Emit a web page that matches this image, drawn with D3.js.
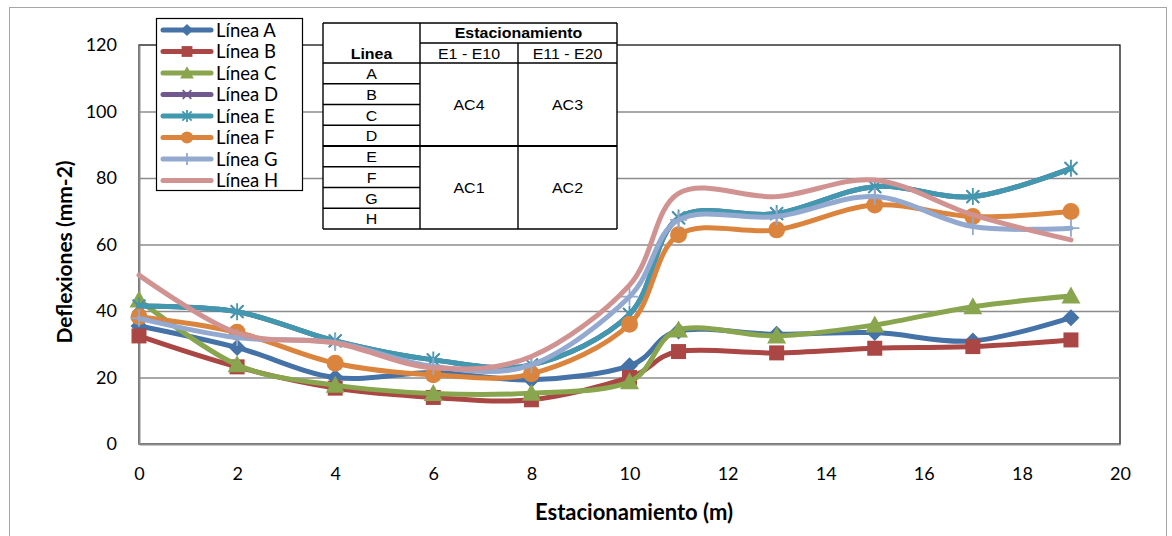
<!DOCTYPE html>
<html>
<head>
<meta charset="utf-8">
<script src="https://cdn.jsdelivr.net/npm/d3@7"></script>
<style>
  html, body { margin: 0; padding: 0; background: #fff; }
  svg { display: block; }
</style>
</head>
<body>
<svg id="chart" width="1172" height="536"></svg>
<script>
// Estacionamiento (m) at which each deflection was measured
const stations = [0, 2, 4, 6, 8, 10, 11, 13, 15, 17, 19];

// Deflexiones (mm-2) per line
const lineA = [35.5, 29, 20, 21.5, 19.3, 23.5, 34, 33, 33.5, 31, 38];
const lineB = [32.5, 23.2, 16.8, 14, 13.3, 20, 27.8, 27.4, 28.8, 29.3, 31.3];
const lineC = [43.3, 23.8, 17.7, 15.2, 15.3, 18.7, 34.3, 32.5, 35.8, 41.3, 44.5];
const lineD = [41.5, 39.8, 31, 25.3, 23.8, 39, 68, 69.3, 77.4, 74.4, 82.9];
const lineE = [41.5, 39.8, 31, 25.3, 23.8, 39, 68, 69.3, 77.4, 74.4, 82.9];
const lineF = [38.3, 33.6, 24.3, 20.8, 21.1, 36, 62.9, 64.4, 71.9, 68.4, 69.9];
const lineG = [37.8, 32, 30.5, 23.3, 23.8, 44.3, 67.4, 68.4, 74.4, 65.4, 64.9];
const lineH = [50.8, 33.4, 30.4, 22.9, 26.3, 47.8, 75.4, 74.4, 79.4, 68.9, 61.4];

const seriesNames = ["Línea A", "Línea B", "Línea C", "Línea D", "Línea E", "Línea F", "Línea G", "Línea H"];
const seriesValues = [lineA, lineB, lineC, lineD, lineE, lineF, lineG, lineH];
const seriesColors = ["#4572A7", "#AA4643", "#89A54E", "#71588F", "#4198AF", "#DB843D", "#93A9CF", "#D19392"];
const seriesMarkers = ["diamond", "square", "triangle", "x", "asterisk", "circle", "plus", "none"];

const yTicks = [0, 20, 40, 60, 80, 100, 120];
const xTicks = [0, 2, 4, 6, 8, 10, 12, 14, 16, 18, 20];

// Inset table: pavement assignment per line and station range
const tableHeader = "Estacionamiento";
const tableLineLabel = "Linea";
const tableRanges = ["E1 - E10", "E11 - E20"];
const tableLines = ["A", "B", "C", "D", "E", "F", "G", "H"];
const tableGroups = [["AC4", "AC3"], ["AC1", "AC2"]];

const svg = d3.select("#chart");
const plot = { left: 139, right: 1120, top: 45, bottom: 444 };

const x = d3.scaleLinear().domain([0, 20]).range([plot.left, plot.right]);
const y = d3.scaleLinear().domain([0, 120]).range([plot.bottom, plot.top]);

const uiFont = "Lato, 'Open Sans', sans-serif";
const tableFont = "'Liberation Sans', Arial, sans-serif";

// outer chart border
svg.append("rect")
  .attr("x", 9.5).attr("y", 7.5)
  .attr("width", 1157).attr("height", 540)
  .attr("fill", "#fff").attr("stroke", "#a6a6a6").attr("stroke-width", 1);

// plot area frame
svg.append("rect")
  .attr("x", plot.left).attr("y", plot.top)
  .attr("width", plot.right - plot.left).attr("height", plot.bottom - plot.top)
  .attr("fill", "#fff").attr("stroke", "#000").attr("stroke-width", 1.2);

// horizontal gridlines
svg.append("g")
  .attr("transform", `translate(${plot.left},0)`)
  .call(d3.axisLeft(y).tickValues(yTicks.slice(1, -1)).tickSize(-(plot.right - plot.left)).tickFormat(""))
  .call(g => g.select(".domain").remove())
  .call(g => g.selectAll("line").attr("stroke", "#8c8c8c").attr("stroke-width", 1.6));

// y axis
const yAxis = svg.append("g")
  .attr("transform", `translate(${plot.left},0)`)
  .call(d3.axisLeft(y).tickValues(yTicks).tickSize(0).tickPadding(22));
yAxis.select(".domain").attr("stroke", "#8c8c8c").attr("stroke-width", 2);
yAxis.selectAll("text").attr("font-family", uiFont).attr("font-size", 18).attr("fill", "#000");

// x axis
const xAxis = svg.append("g")
  .attr("transform", `translate(0,${plot.bottom})`)
  .call(d3.axisBottom(x).tickValues(xTicks).tickSize(0).tickPadding(23));
xAxis.select(".domain").attr("stroke", "#8c8c8c").attr("stroke-width", 2);
xAxis.selectAll("text").attr("font-family", uiFont).attr("font-size", 18).attr("fill", "#000");

// axis titles
svg.append("text")
  .attr("transform", `translate(72,252) rotate(-90)`)
  .attr("text-anchor", "middle")
  .attr("font-family", uiFont).attr("font-weight", "bold").attr("font-size", 21)
  .text("Deflexiones (mm-2)");
svg.append("text")
  .attr("x", 634).attr("y", 520)
  .attr("text-anchor", "middle")
  .attr("font-family", uiFont).attr("font-weight", "bold").attr("font-size", 22)
  .text("Estacionamiento (m)");

// marker drawing; k scales the marker size
function drawMarker(sel, kind, color, k) {
  const s = k || 1;
  const filled = {
    diamond: "M0,-8.5L8.5,0L0,8.5L-8.5,0Z",
    square: "M-7.5,-7.5H7.5V7.5H-7.5Z",
    triangle: "M0,-9.5L9.5,7.5L-9.5,7.5Z"
  };
  const g = sel.append("g").attr("transform", `scale(${s})`);
  if (filled[kind]) {
    g.append("path").attr("d", filled[kind]).attr("fill", color);
  } else if (kind === "circle") {
    g.append("circle").attr("r", 8.5).attr("fill", color);
  } else if (kind === "x") {
    g.append("path").attr("d", "M-6,-6L6,6M-6,6L6,-6")
      .attr("fill", "none").attr("stroke", color).attr("stroke-width", 1.8 / s);
  } else if (kind === "asterisk") {
    g.append("path").attr("d", "M-6.5,-6.5L6.5,6.5M-6.5,6.5L6.5,-6.5M0,-8.5L0,8.5")
      .attr("fill", "none").attr("stroke", color).attr("stroke-width", 1.8 / s);
  } else if (kind === "plus") {
    g.append("path").attr("d", "M-8.5,0L8.5,0M0,-8.5L0,8.5")
      .attr("fill", "none").attr("stroke", color).attr("stroke-width", 1.8 / s);
  }
}

// smoothed series lines with markers
const line = d3.line()
  .x((d, i) => x(stations[i]))
  .y(d => y(d))
  .curve(d3.curveCatmullRom.alpha(0));

seriesValues.forEach((vals, s) => {
  const g = svg.append("g");
  g.append("path")
    .attr("d", line(vals))
    .attr("fill", "none")
    .attr("stroke", seriesColors[s])
    .attr("stroke-width", 5)
    .attr("stroke-linejoin", "round")
    .attr("stroke-linecap", "round");
  vals.forEach((v, i) => {
    const m = g.append("g").attr("transform", `translate(${x(stations[i])},${y(v)})`);
    drawMarker(m, seriesMarkers[s], seriesColors[s]);
  });
});

// legend
const legend = svg.append("g");
legend.append("rect")
  .attr("x", 156.5).attr("y", 18.5).attr("width", 146).attr("height", 172)
  .attr("fill", "#fff").attr("stroke", "#000").attr("stroke-width", 1.2);
seriesNames.forEach((name, s) => {
  const cy = 30 + s * 21.5;
  legend.append("line")
    .attr("x1", 163).attr("x2", 211).attr("y1", cy).attr("y2", cy)
    .attr("stroke", seriesColors[s]).attr("stroke-width", 5).attr("stroke-linecap", "round");
  const m = legend.append("g").attr("transform", `translate(187,${cy})`);
  drawMarker(m, seriesMarkers[s], seriesColors[s], 0.72);
  legend.append("text")
    .attr("x", 216).attr("y", cy + 6.5)
    .attr("font-family", uiFont).attr("font-size", 18.5)
    .text(name);
});

// inset table
const tb = svg.append("g");
const tx0 = 323, tx1 = 420, tx2 = 518, tx3 = 617;
const ty0 = 23, ty1 = 43, ty2 = 63, rowH = 20.75;
const ty3 = ty2 + rowH * 8;
tb.append("rect").attr("x", tx0).attr("y", ty0).attr("width", tx3 - tx0).attr("height", ty3 - ty0)
  .attr("fill", "#fff");
const tl = (x1, y1, x2, y2, w) => tb.append("line")
  .attr("x1", x1).attr("y1", y1).attr("x2", x2).attr("y2", y2)
  .attr("stroke", "#000").attr("stroke-width", w || 1.4);
// table text, slightly widened
const tt = (cx, by, t, bold) => tb.append("text")
  .attr("transform", `translate(${cx},${by}) scale(1.14,1)`)
  .attr("text-anchor", "middle")
  .attr("font-family", tableFont).attr("font-size", 14)
  .attr("font-weight", bold ? "bold" : "normal")
  .text(t);
// frame and dividers
tl(tx0, ty0, tx3, ty0); tl(tx0, ty3, tx3, ty3); tl(tx0, ty0, tx0, ty3); tl(tx3, ty0, tx3, ty3);
tl(tx1, ty0, tx1, ty3);
tl(tx2, ty1, tx2, ty3);
tl(tx1, ty1, tx3, ty1);
tl(tx0, ty2, tx3, ty2);
tableLines.forEach((r, i) => {
  const yy = ty2 + rowH * (i + 1);
  if (i < 7) tl(tx0, yy, i === 3 ? tx3 : tx1, yy, i === 3 ? 2.2 : 1.4);
  tt((tx0 + tx1) / 2, ty2 + rowH * i + 16, r);
});
tt((tx1 + tx3) / 2, ty0 + 15, tableHeader, true);
tt((tx0 + tx1) / 2, ty1 + 15.5, tableLineLabel, true);
tableRanges.forEach((t, i) => {
  const cx = i === 0 ? (tx1 + tx2) / 2 : (tx2 + tx3) / 2;
  tt(cx, ty1 + 15.5, t);
});
tableGroups.forEach((grp, gi) => {
  const cy = ty2 + rowH * (gi * 4 + 2) + 5;
  grp.forEach((t, i) => {
    const cx = i === 0 ? (tx1 + tx2) / 2 : (tx2 + tx3) / 2;
    tt(cx, cy, t);
  });
});
</script>
</body>
</html>
